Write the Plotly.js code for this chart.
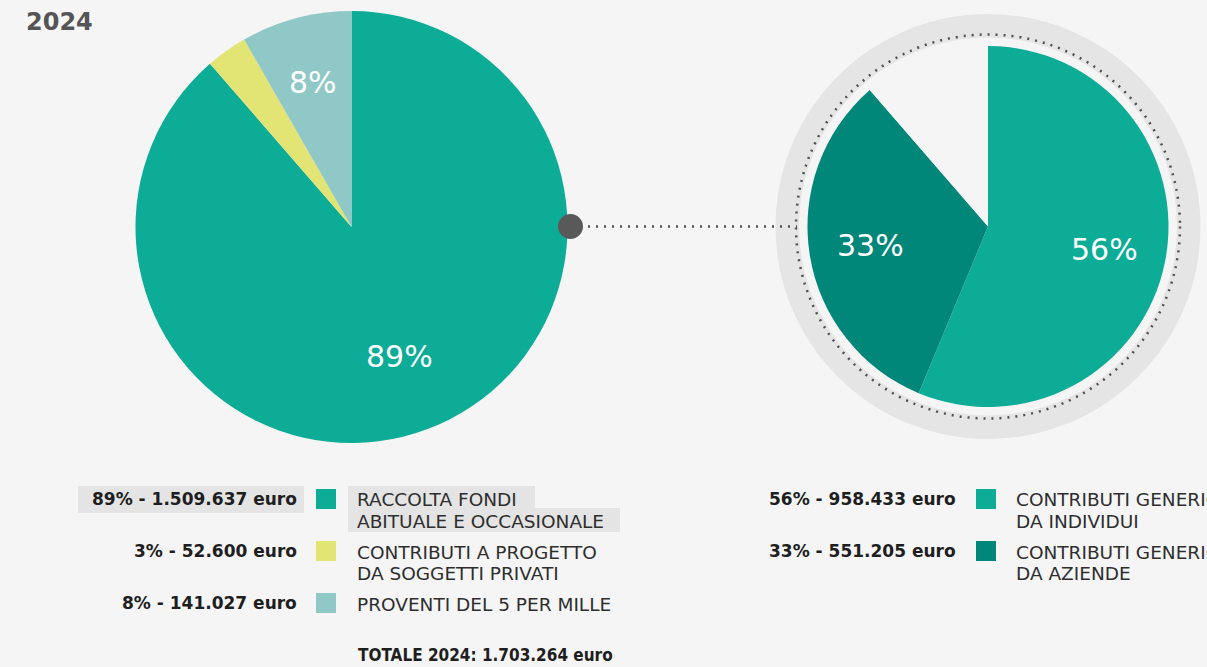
<!DOCTYPE html>
<html>
<head>
<meta charset="utf-8">
<script src="https://cdn.plot.ly/plotly-3.0.1.min.js"></script>
<style>
html,body{margin:0;padding:0;background:#f5f5f5;}
#chart{width:1207px;height:667px;}
</style>
</head>
<body>
<div id="chart"></div>
<script>
// ---------------- DATA ----------------
const yearLabel = "2024";
const leftLabels = ["RACCOLTA FONDI<br>ABITUALE E OCCASIONALE", "CONTRIBUTI A PROGETTO<br>DA SOGGETTI PRIVATI", "PROVENTI DEL 5 PER MILLE"];
const leftValues = [1509637, 52600, 141027];
const leftPercents = [89, 3, 8];
const leftColors = ["#0cac96", "#e2e473", "#8fc8c6"];

const rightLabels = ["CONTRIBUTI GENERICI<br>DA INDIVIDUI", "CONTRIBUTI GENERICI<br>DA AZIENDE", "ALTRE ENTRATE"];
const rightValues = [958433, 551205, 193627];
const rightPercents = [56, 33, 11];
const rightColors = ["#0cac96", "#00877a", "#f5f5f5"];

const totalLabel = "TOTALE 2024";
const totalValue = 1703264;

// ---------------- LAYOUT HELPERS ----------------
const W = 1207, H = 667;
const BG = "#f5f5f5";
const px = x => x / W;
const py = y => 1 - y / H;
const fmt = n => n.toString().replace(/\B(?=(\d{3})+(?!\d))/g, ".");

function circle(cx, cy, r, opts) {
  return Object.assign({
    type: "circle", xref: "paper", yref: "paper",
    x0: px(cx - r), x1: px(cx + r), y0: py(cy + r), y1: py(cy - r)
  }, opts);
}
function rect(x0, y0, x1, y1, opts) {
  return Object.assign({
    type: "rect", xref: "paper", yref: "paper",
    x0: px(x0), x1: px(x1), y0: py(y1), y1: py(y0)
  }, opts);
}
function txt(x, y, text, anchor, font) {
  return {
    xref: "paper", yref: "paper", x: px(x), y: py(y),
    text: text, showarrow: false, xanchor: anchor, yanchor: "middle",
    align: anchor === "right" ? "right" : "left", font: font
  };
}

const LC = {cx: 351.5, cy: 227, r: 216};
const RC = {cx: 988, cy: 226.5, r: 180.5};

function pieTrace(values, labels, colors, c) {
  return {
    type: "pie", values: values, labels: labels,
    textinfo: "none",
    marker: {colors: colors, line: {width: 0}},
    sort: false, direction: "clockwise", rotation: 0,
    hoverinfo: "skip", showlegend: false,
    domain: {x: [px(c.cx - c.r), px(c.cx + c.r)], y: [py(c.cy + c.r), py(c.cy - c.r)]}
  };
}
const traces = [
  pieTrace(leftValues, leftLabels, leftColors, LC),
  pieTrace(rightValues, rightLabels, rightColors, RC)
];

const annotations = [];
const pieFont = {family: "DejaVu Sans", size: 30, color: "#ffffff"};
// percentage labels placed at each slice's mid-angle (clockwise from 12 o'clock)
function sliceLabels(values, percents, c, show, rf) {
  const tot = values.reduce((a, b) => a + b, 0);
  let cum = 0;
  values.forEach((v, i) => {
    const mid = (cum + v / 2) / tot * 2 * Math.PI;
    cum += v;
    if (!show[i]) return;
    const rr = c.r * rf[i];
    annotations.push(txt(c.cx + rr * Math.sin(mid), c.cy - rr * Math.cos(mid), percents[i] + "%", "center", pieFont));
  });
}
sliceLabels(leftValues, leftPercents, LC, [true, false, true], [0.64, 0, 0.69]);
sliceLabels(rightValues, rightPercents, RC, [true, true, false], [0.66, 0.66, 0]);

const shapes = [];
// decorative ring round the right pie
shapes.push(circle(RC.cx, RC.cy, 212.5, {fillcolor: "#e5e5e5", line: {width: 0}, layer: "below"}));
shapes.push(circle(RC.cx, RC.cy, 189, {fillcolor: BG, line: {width: 0}, layer: "below"}));
shapes.push(circle(RC.cx, RC.cy, 192, {line: {color: "#505050", width: 2.5, dash: "2px,6px"}, layer: "below"}));
// connector
shapes.push({type: "line", xref: "paper", yref: "paper", x0: px(588), x1: px(797), y0: py(226.5), y1: py(226.5),
  line: {color: "#505050", width: 2.5, dash: "2px,6px"}, layer: "below"});
shapes.push(circle(570.5, 226.5, 12.5, {fillcolor: "#595959", line: {width: 0}, layer: "above"}));

// highlight boxes (first left row)
shapes.push(rect(78, 486, 304, 513, {fillcolor: "#e4e4e4", line: {width: 0}, layer: "below"}));
shapes.push(rect(348, 486, 535, 510, {fillcolor: "#e4e4e4", line: {width: 0}, layer: "below"}));
shapes.push(rect(348, 508, 620, 532, {fillcolor: "#e4e4e4", line: {width: 0}, layer: "below"}));

annotations.push(txt(24, 22, "<b>" + yearLabel + "</b>", "left", {family: "DejaVu Sans", size: 24, color: "#555555"}));

const amtFont = {family: "DejaVu Sans", size: 17, color: "#1e1e1e", weight: "bold"};
const labFont = {family: "DejaVu Sans", size: 18.5, color: "#2e2e2e"};

function legendRows(labels, values, percents, colors, n, amtX, swX, labX) {
  for (let i = 0; i < n; i++) {
    const yc = 499 + 52 * i;
    annotations.push(txt(amtX, yc, percents[i] + "% - " + fmt(values[i]) + " euro", "right", amtFont));
    shapes.push(rect(swX, yc - 10, swX + 20, yc + 10, {fillcolor: colors[i], line: {width: 0}}));
    labels[i].split("<br>").forEach((line, k) => {
      annotations.push(txt(labX, yc + 1 + 21 * k, line, "left", labFont));
    });
  }
}
legendRows(leftLabels, leftValues, leftPercents, leftColors, 3, 299, 316, 355);
legendRows(rightLabels, rightValues, rightPercents, rightColors, 2, 958, 976, 1014);

annotations.push(txt(356, 655, "<b>" + totalLabel + ": " + fmt(totalValue) + " euro</b>", "left",
  {family: "DejaVu Sans Condensed", size: 17, color: "#1e1e1e"}));

const layout = {
  width: W, height: H,
  margin: {l: 0, r: 0, t: 0, b: 0},
  paper_bgcolor: BG, plot_bgcolor: BG,
  showlegend: false,
  shapes: shapes,
  annotations: annotations
};

Plotly.newPlot("chart", traces, layout, {displayModeBar: false, staticPlot: true});
</script>
</body>
</html>
